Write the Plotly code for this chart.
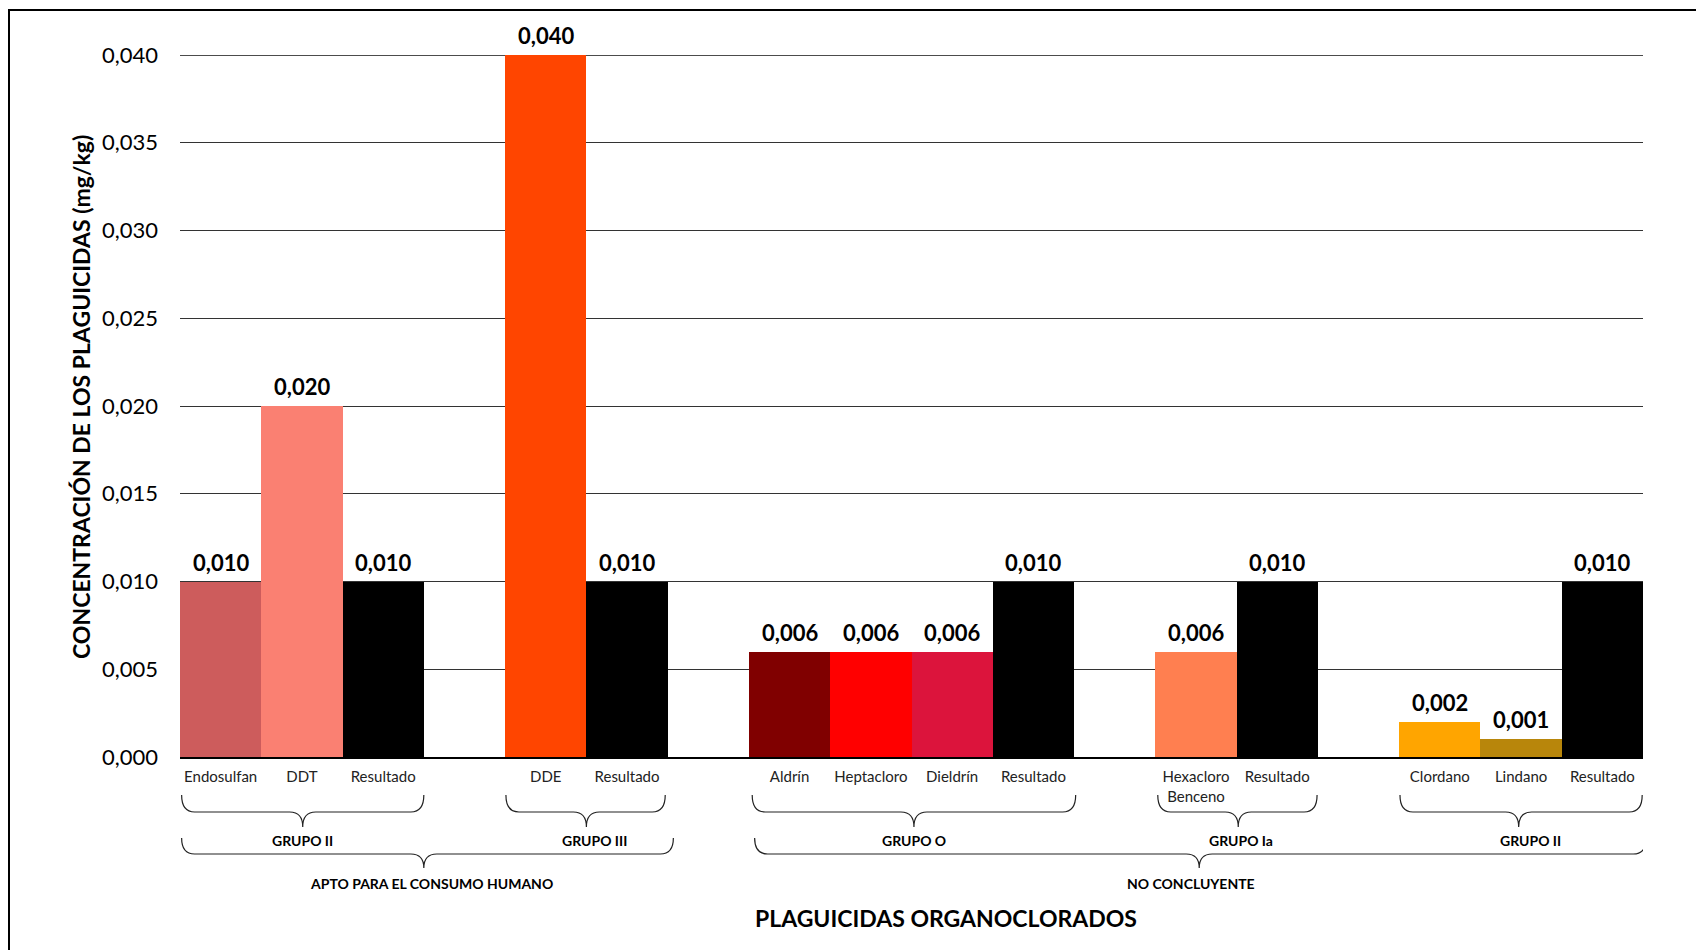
import plotly.graph_objects as go

# ---- data ----
categories = ["Endosulfan", "DDT", "Resultado", "", "DDE", "Resultado", "",
              "Aldrín", "Heptacloro", "Dieldrín", "Resultado", "",
              "Hexacloro<br>Benceno", "Resultado", "", "Clordano", "Lindano", "Resultado"]
values = [0.010, 0.020, 0.010, None, 0.040, 0.010, None,
          0.006, 0.006, 0.006, 0.010, None,
          0.006, 0.010, None, 0.002, 0.001, 0.010]
colors = ["#CD5C5C", "#FA8072", "#000000", "#FFFFFF", "#FF4500", "#000000", "#FFFFFF",
          "#800000", "#FF0000", "#DC143C", "#000000", "#FFFFFF",
          "#FF7F50", "#000000", "#FFFFFF", "#FFA500", "#B8860B", "#000000"]
y_ticks = [0.000, 0.005, 0.010, 0.015, 0.020, 0.025, 0.030, 0.035, 0.040]

# braces: (left, right, tip, label position, label) in category-slot units
groups_lvl1 = [(-0.48, 2.50, 1.01, 1.01, "GRUPO II"), (3.51, 5.47, 4.50, 4.60, "GRUPO III"),
               (6.54, 10.52, 8.53, 8.53, "GRUPO O"), (11.53, 13.49, 12.52, 12.55, "GRUPO Ia"),
               (14.51, 17.49, 15.97, 16.12, "GRUPO II")]
groups_lvl2 = [(-0.48, 5.57, 2.50, 2.60, "APTO PARA EL CONSUMO HUMANO"),
               (6.57, 17.54, 12.04, 11.94, "NO CONCLUYENTE")]

W, H = 1704, 950
OFF = 8  # page body margin
L, R, T, B = 180 - OFF, 69, 55 - OFF, 201
PH = H - T - B
PW = W - L - R
FONT = "Lato"


def py(p):  # page pixel y -> paper y
    return (H - B - (p - OFF)) / PH


def px(p):  # page pixel x -> paper x
    return ((p - OFF) - L) / PW


xs = list(range(len(categories)))
bx = [x for x, v in zip(xs, values) if v is not None]
bv = [v for v in values if v is not None]
bc = [c for c, v in zip(colors, values) if v is not None]

fig = go.Figure()
fig.add_trace(go.Bar(
    x=bx, y=bv, width=1.0, marker=dict(color=bc, line=dict(width=0)),
    hoverinfo="skip"))

shapes = []
annotations = []

# value labels above bars
for x, v in zip(bx, bv):
    annotations.append(dict(x=x, y=v, xref="x", yref="y",
                            text="<b>" + f"{v:.3f}".replace(".", ",") + "</b>",
                            showarrow=False, yanchor="bottom", xanchor="center", yshift=4,
                            font=dict(family=FONT, size=22, color="black")))


def brace(xl, xr, xt, ptop, pmid, ptip, r=0.16):
    y1, y2, y3 = py(ptop), py(pmid), py(ptip)
    path = (f"M {xl},{y1} Q {xl},{y2} {xl + r},{y2} L {xt - r},{y2} "
            f"Q {xt},{y2} {xt},{y3} Q {xt},{y2} {xt + r},{y2} "
            f"L {xr - r},{y2} Q {xr},{y2} {xr},{y1}")
    return dict(type="path", path=path, xref="x", yref="paper",
                line=dict(color="#222222", width=1.2))


for xl, xr, xt, xlab, lab in groups_lvl1:
    shapes.append(brace(xl, xr, xt, 795, 812, 827))
    annotations.append(dict(x=xlab, y=py(840), xref="x", yref="paper", text=f"<b>{lab}</b>",
                            showarrow=False, font=dict(family=FONT, size=14, color="black"),
                            xanchor="center", yanchor="middle"))
for xl, xr, xt, xlab, lab in groups_lvl2:
    shapes.append(brace(xl, xr, xt, 838, 854, 868))
    annotations.append(dict(x=xlab, y=py(883), xref="x", yref="paper", text=f"<b>{lab}</b>",
                            showarrow=False, font=dict(family=FONT, size=14, color="black"),
                            xanchor="center", yanchor="middle"))

# top gridline (at the end of the range)
shapes.append(dict(type="line", xref="paper", yref="y", x0=0, x1=1,
                   y0=y_ticks[-1], y1=y_ticks[-1], line=dict(color="#111111", width=1.5),
                   layer="below"))

# outer frame
shapes.append(dict(type="rect", xref="paper", yref="paper",
                   x0=px(9), x1=px(1725), y0=py(970), y1=py(10),
                   line=dict(color="black", width=2), layer="below"))

annotations.append(dict(x=px(81), y=py(397), xref="paper", yref="paper",
                        text="<b>CONCENTRACIÓN DE LOS PLAGUICIDAS (mg/kg)</b>", textangle=-90,
                        showarrow=False, font=dict(family=FONT, size=23, color="black"),
                        xanchor="center", yanchor="middle"))
annotations.append(dict(x=px(946), y=py(918), xref="paper", yref="paper",
                        text="<b>PLAGUICIDAS ORGANOCLORADOS</b>",
                        showarrow=False, font=dict(family=FONT, size=23, color="black"),
                        xanchor="center", yanchor="middle"))

fig.update_layout(
    width=W, height=H, margin=dict(l=L, r=R, t=T, b=B, autoexpand=False),
    paper_bgcolor="white", plot_bgcolor="white", separators=",.",
    showlegend=False, bargap=0, shapes=shapes, annotations=annotations,
    font=dict(family=FONT, color="black"),
)
fig.update_xaxes(range=[-0.5, len(categories) - 0.5], tickvals=xs, ticktext=categories,
                 tickangle=0, showgrid=False, showline=True, linecolor="black", linewidth=2,
                 ticks="", tickfont=dict(family=FONT, size=15, color="#222222"),
                 ticklabelstandoff=5, zeroline=False, fixedrange=True)
fig.update_yaxes(range=[0, 0.040], tickvals=y_ticks, tickformat=".3f", showgrid=True,
                 gridcolor="#333333", gridwidth=1, zeroline=False, showline=False,
                 ticks="", ticklabelstandoff=21,
                 tickfont=dict(family=FONT, size=22, color="black"), fixedrange=True)

fig.write_html("out.html")
